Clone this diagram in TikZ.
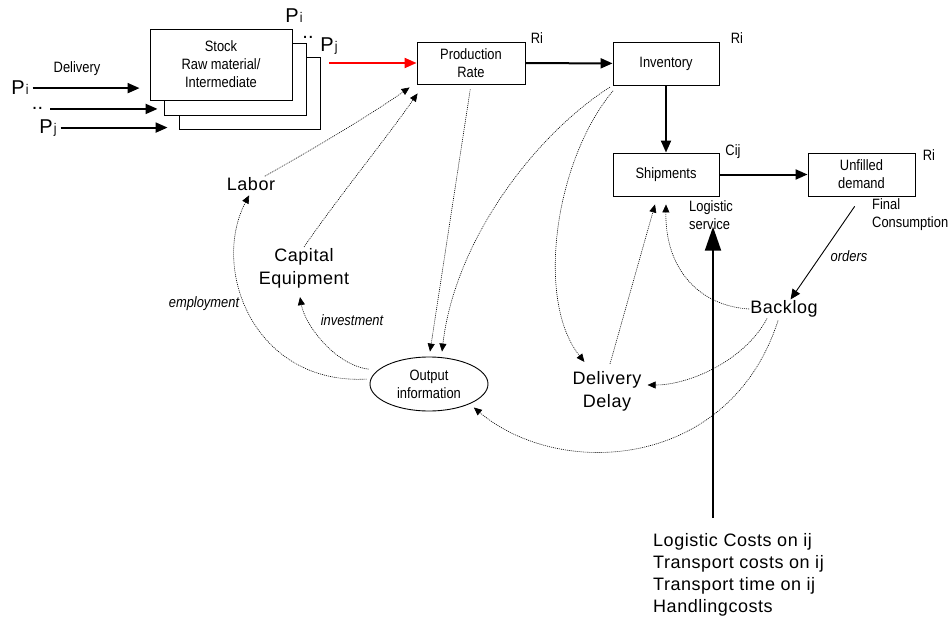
\documentclass[tikz,border=0pt]{standalone}
\usepackage{fontspec}
\setmainfont{Liberation Sans}
\newfontfamily\smallfont[FakeStretch=0.86]{Liberation Sans}
\newfontfamily\bigfont[LetterSpace=3]{Liberation Sans}
\usetikzlibrary{arrows.meta,calc,shapes.geometric}

\newcommand{\pidx}[1]{P\kern1pt{\smallfont\fontsize{14}{14}\selectfont #1}}

\tikzset{
  box/.style={draw, line width=0.9pt, fill=white, minimum width=107pt, minimum height=43pt,
    align=center, font=\smallfont\fontsize{15}{18}\selectfont},
  lbl/.style={inner sep=1pt, font=\smallfont\fontsize{15}{18}\selectfont},
  itlbl/.style={inner sep=1pt, font=\smallfont\itshape\fontsize{15}{18}\selectfont},
  biglbl/.style={inner sep=1pt, align=center, font=\bigfont\fontsize{18}{23}\selectfont},
  plbl/.style={inner sep=0pt, anchor=base, font=\fontsize{20}{20}\selectfont},
  flow/.style={line width=2pt, -{Triangle[length=12pt,width=10pt]}},
  infl/.style={line width=0.6pt, dash pattern=on 1pt off 1pt, -{Triangle[length=8pt,width=7pt]}},
}

\begin{document}
\begin{tikzpicture}[x=1pt, y=-1pt]
        \useasboundingbox (0,0) rectangle (951,626);

        % Nodes (stock, back to front)
        \node[box, minimum width=141pt, minimum height=72pt] (stock3) at (249.5,93) {};
        \node[box, minimum width=142pt, minimum height=72pt] (stock2) at (235,79) {};
        \node[box, minimum width=142pt, minimum height=71pt] (stock) at (221,64.5) {Stock\\Raw material/\\Intermediate};

        % Nodes (deliveries)
        \node[lbl] (delivery) at (77,69) {Delivery};
        \node[plbl] (pi) at (20,95) {\pidx{i}};
        \node[plbl] (dots) at (37.5,110) {..};
        \node[plbl] (pj) at (48,133) {\pidx{j}};
        \node[plbl] (pitop) at (294,23) {\pidx{i}};
        \node[plbl] (dotstop) at (308,39) {..};
        \node[plbl] (pjtop) at (329,52) {\pidx{j}};

        % Nodes (production chain)
        \node[box, minimum width=108pt, minimum height=42pt] (prod) at (471,63) {Production\\Rate};
        \node[box, minimum width=106pt] (inv) at (666,63.5) {Inventory};
        \node[box, minimum width=106pt] (ship) at (666,174.5) {Shipments};
        \node[box] (unf) at (861.5,174.5) {Unfilled\\demand};
        \node[lbl] (riprod) at (537,38) {Ri};
        \node[lbl] (riinv) at (737,38) {Ri};
        \node[lbl] (cij) at (733,152) {Cij};
        \node[lbl] (riunf) at (929,155) {Ri};
        \node[lbl, align=left, anchor=west] (svc) at (688,215) {Logistic\\service};
        \node[lbl, align=left, anchor=west] (fin) at (871,215) {Final\\Consumption};

        % Nodes (feedback)
        \node[biglbl] (labor) at (251,184) {Labor};
        \node[biglbl] (cap) at (304,268) {Capital\\Equipment};
        \node[draw, ellipse, line width=0.9pt, minimum width=118pt, minimum height=54pt, inner sep=0pt,
          align=center, font=\smallfont\fontsize{15}{18}\selectfont] (out) at (429,384) {Output\\information};
        \node[biglbl] (dd) at (607,391) {Delivery\\Delay};
        \node[biglbl] (backlog) at (784,309) {Backlog};
        \node[itlbl] (empl) at (204,304) {employment};
        \node[itlbl] (invest) at (352,320) {investment};
        \node[itlbl] (orders) at (849,256) {orders};
        \node[inner sep=0pt, anchor=north west, align=left, font=\bigfont\fontsize{18}{22}\selectfont] (costs)
          at (653,533) {Logistic Costs on ij\\Transport costs on ij\\Transport time on ij\\Handlingcosts};
        \coordinate (lc) at (713,518);

        % Edges (material flow)
        \draw[flow, shorten <=4pt, shorten >=10pt] (pi) -- (pi -| stock.west);
        \draw[flow, shorten <=7pt, shorten >=6pt] (dots) -- (dots -| stock2.west);
        \draw[flow, shorten <=4pt, shorten >=11pt] (pj) -- (pj -| stock3.west);
        \draw[flow, red, shorten <=9pt] (prod.west -| stock3.east) -- (prod.west);
        \draw[flow] (prod) -- (inv);
        \draw[flow] (inv) -- (ship);
        \draw[flow] (ship) -- (unf);
        \draw[line width=0.9pt, -{Triangle[length=10pt,width=9pt]}, shorten <=12pt] (unf.south) -- (backlog);
        \draw[line width=2pt, -{Triangle[length=24pt,width=16pt]}, shorten >=-4pt] (lc) -- (lc |- svc.south);

        % Edges (information, dotted)
        \draw[infl] (labor) .. controls (320,145) and (370,115) .. ($(prod.south west)+(-7,3)$);
        \draw[infl] (cap.north) .. controls (340,195) and (385,140) .. ($(prod.south west)+(1,9)$);
        \draw[infl, shorten <=5pt] (prod.south) -- ($(out.north)+(1,-5)$);
        \draw[infl, shorten <=3pt] (inv.south west) .. controls (535,135) and (455,240) .. ($(out.north)+(13,-5)$);
        \draw[infl, shorten <=7pt] ($(inv.south west)+(5,0)$) .. controls (555,160) and (535,300) .. ($(dd.north west)+(13,-8)$);
        \draw[infl] ($(dd.north)+(3,-6)$) -- ($(ship.south)+(-11,8)$);
        \draw[infl] (backlog.west) .. controls (700,306) and (665,270) .. ($(ship.south)+(0,8)$);
        \draw[infl] ($(backlog.south)+(-17,0)$) .. controls (745,360) and (690,385) .. ($(dd.east)+(5,-6)$);
        \draw[infl] ($(backlog.south)+(-6,2)$) .. controls (730,470) and (560,480) .. ($(out.-25)+(3,4)$);
        \draw[infl, shorten <=4pt, shorten >=4pt] (out.175) .. controls (255,385) and (210,270) .. (labor.south);
        \draw[infl, shorten <=9pt] (out.165) .. controls (335,365) and (305,325) .. ($(cap.south)+(-4,8)$);
    \end{tikzpicture}
\end{document}
